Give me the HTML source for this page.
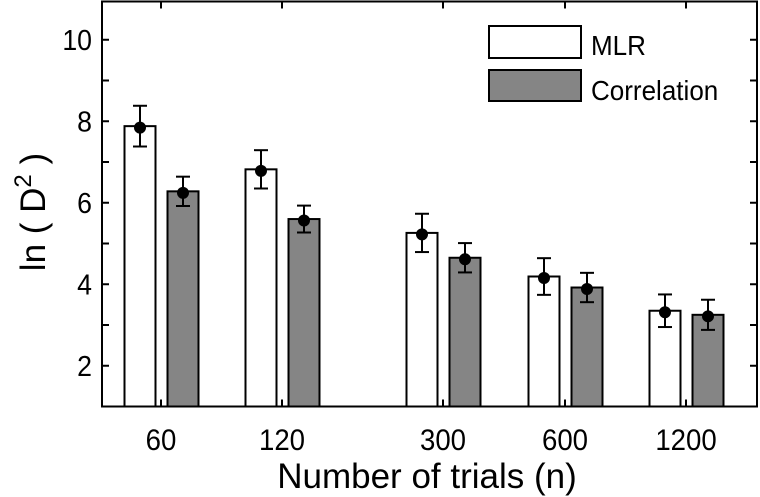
<!DOCTYPE html>
<html><head><meta charset="utf-8"><style>
html,body{margin:0;padding:0;background:#fff;}
svg{display:block;font-family:"Liberation Sans",Arial,sans-serif;}
</style></head><body>
<svg id="chart" width="760" height="497" viewBox="0 0 760 497">
<g id="plot"></g>
</svg>
<script>
const categories = ["60","120","300","600","1200"];
const mlrValues = [7.88, 6.82, 5.26, 4.19, 3.35];
const mlrErrors = [0.50, 0.47, 0.47, 0.45, 0.40];
const corrValues = [6.28, 5.60, 4.65, 3.92, 3.25];
const corrErrors = [0.36, 0.33, 0.36, 0.36, 0.37];
const yTicks = [2, 4, 6, 8, 10];
const yMinorTicks = [1, 3, 5, 7, 9];

const NS = "http://www.w3.org/2000/svg";
const g = document.getElementById("plot");
const L = 102, R = 757, T = 1.5, B = 406.5;
const catX = [161, 282, 443, 565, 686];
function y(v){ return B - (v - 1) * 40.75; }
function xc(i){ return catX[i]; }
function mk(tag, attrs, parent){
  const e = document.createElementNS(NS, tag);
  for (const k in attrs) e.setAttribute(k, attrs[k]);
  (parent || g).appendChild(e);
  return e;
}
const BW = 31;
function drawSeries(vals, errs, off, fill, name){
  vals.forEach((v, i) => {
    const cx = xc(i) + off;
    const r = mk("rect", {x: cx - BW/2, y: y(v), width: BW, height: B - y(v), fill: fill, stroke: "#000", "stroke-width": 2});
    
    
    const e = errs[i];
    const eg = mk("g", {stroke: "#000", "stroke-width": 2});
    
    
    mk("line", {x1: cx, x2: cx, y1: y(v + e), y2: y(v - e)}, eg);
    mk("line", {x1: cx - 7, x2: cx + 7, y1: y(v + e), y2: y(v + e)}, eg);
    mk("line", {x1: cx - 7, x2: cx + 7, y1: y(v - e), y2: y(v - e)}, eg);
    const d = mk("circle", {cx: cx, cy: y(v) + 1.5, r: 6, fill: "#000"});
    
    
  });
}
drawSeries(mlrValues, mlrErrors, -21, "#fff", "mlr");
drawSeries(corrValues, corrErrors, 22, "#858585", "correlation");

const fr = mk("rect", {x: L, y: T, width: R - L, height: B - T, fill: "none", stroke: "#000", "stroke-width": 2});



yTicks.concat(yMinorTicks).forEach(v => {
  mk("line", {x1: L, x2: L + 7, y1: y(v), y2: y(v), stroke: "#000", "stroke-width": 2});
  mk("line", {x1: R, x2: R - 7, y1: y(v), y2: y(v), stroke: "#000", "stroke-width": 2});
});
yTicks.forEach(v => {
  const t = mk("text", {x: 0, y: 0, "text-anchor": "end", "font-size": 29, transform: "translate(92," + (y(v) + 10) + ") scale(0.92,1)"});
  t.textContent = v;
  
  
});
categories.forEach((c, i) => {
  mk("line", {x1: xc(i), x2: xc(i), y1: B, y2: B - 7, stroke: "#000", "stroke-width": 2});
  mk("line", {x1: xc(i), x2: xc(i), y1: T, y2: T + 7, stroke: "#000", "stroke-width": 2});
  const t = mk("text", {x: 0, y: 0, "text-anchor": "middle", "font-size": 30, transform: "translate(" + xc(i) + ",450) scale(0.92,1)"});
  t.textContent = c;
  
  
});
const xt = mk("text", {x: 427, y: 488, "text-anchor": "middle", "font-size": 35});
xt.textContent = "Number of trials (n)";


const yt = mk("text", {transform: "translate(45,212) rotate(-90)", "text-anchor": "middle", "font-size": 35});
yt.innerHTML = 'ln ( D<tspan dy="-14" font-size="24">2</tspan><tspan dy="14"> )</tspan>';



const lg = mk("g", {});


const l1 = mk("rect", {x: 489, y: 26, width: 92, height: 32, fill: "#fff", stroke: "#000", "stroke-width": 2}, lg);


const l2 = mk("rect", {x: 489, y: 70, width: 92, height: 31, fill: "#858585", stroke: "#000", "stroke-width": 2}, lg);


const t1 = mk("text", {x: 0, y: 0, "font-size": 28, transform: "translate(591,55) scale(0.93,1)"}, lg);
t1.textContent = "MLR";


const t2 = mk("text", {x: 0, y: 0, "font-size": 28, transform: "translate(591,100) scale(0.93,1)"}, lg);
t2.textContent = "Correlation";


</script>
</body></html>
